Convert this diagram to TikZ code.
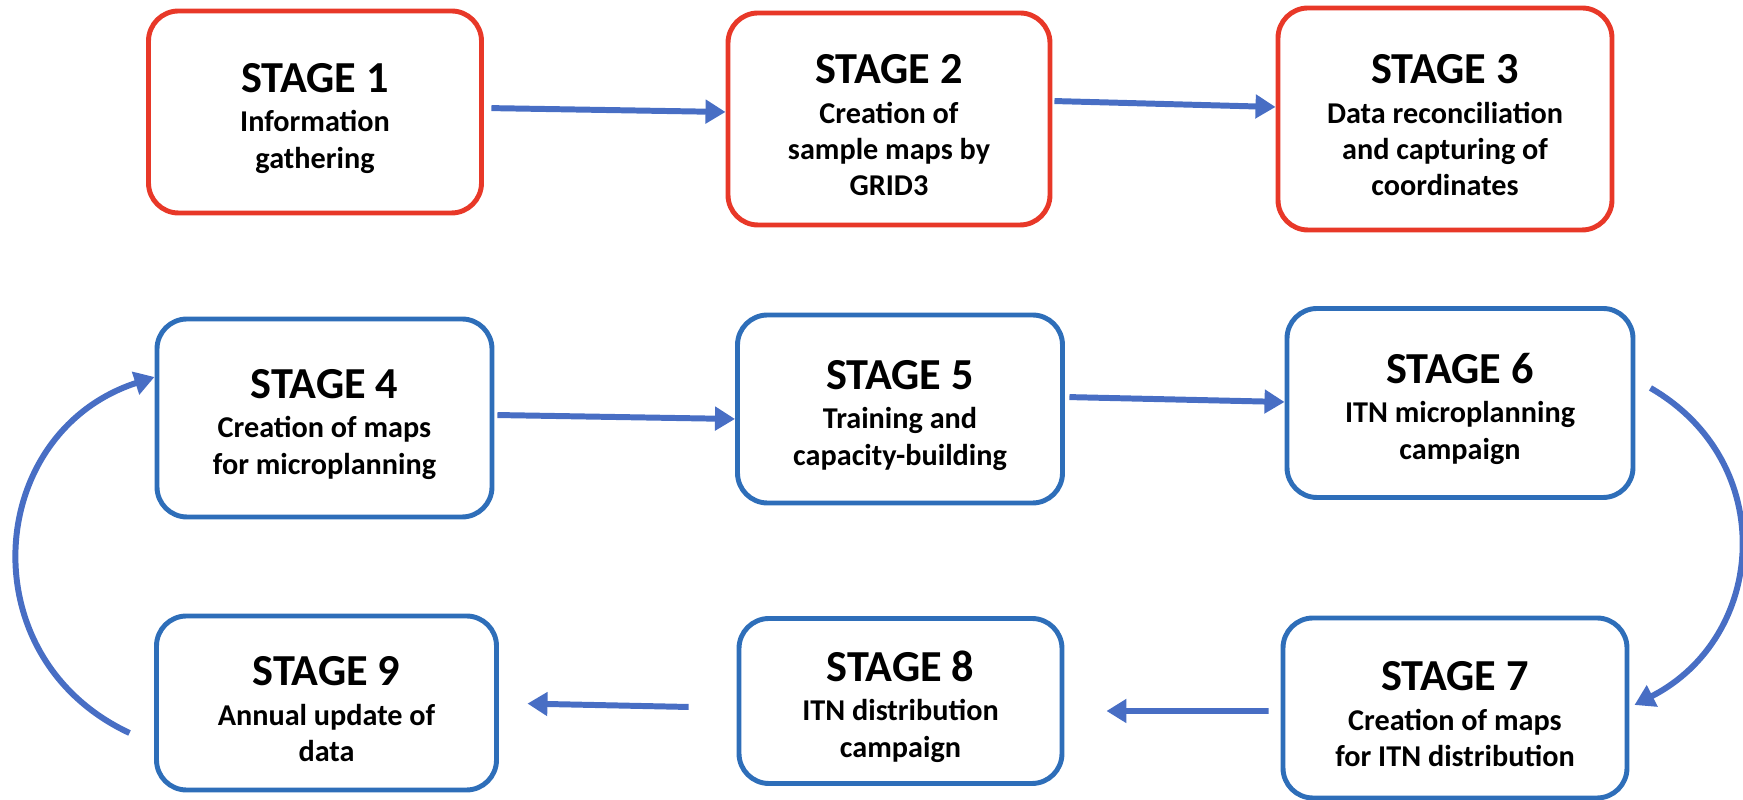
\documentclass[tikz,border=0pt]{standalone}
\usepackage{fontspec}
\setmainfont{Carlito}
\definecolor{stagered}{RGB}{232,56,40}
\definecolor{stageblue}{RGB}{46,110,185}
\definecolor{arrowblue}{RGB}{72,110,196}
\usetikzlibrary{arrows.meta}
\newcommand{\stagefont}{\fontsize{12.6}{14}\selectfont\rule{0pt}{11.8pt}}

\begin{document}
\begin{tikzpicture}[
  box/.style={draw, fill=white, line width=1.4pt, rounded corners=0.3cm, align=center,
    font=\bfseries\fontsize{8.6}{10.3}\selectfont},
  redbox/.style={box, draw=stagered},
  bluebox/.style={box, draw=stageblue},
  arrow/.style={-{Triangle[length=2mm,width=2.3mm]}, line width=1.7pt, color=arrowblue}
]
  \useasboundingbox (0,0) rectangle (17.43,8);
  %% 1. Top row
  \node[redbox, minimum width=3.33cm, minimum height=2.02cm] (s1) at (3.15,6.88)
    {{\stagefont STAGE 1}\\[1pt]Information\\gathering};
  \node[redbox, minimum width=3.22cm, minimum height=2.12cm] (s2) at (8.89,6.81)
    {{\stagefont STAGE 2}\\[1pt]Creation of\\sample maps by\\GRID3};
  \node[redbox, minimum width=3.34cm, minimum height=2.22cm] (s3) at (14.45,6.81)
    {{\stagefont STAGE 3}\\[1pt]Data reconciliation\\and capturing of\\coordinates};
  %% 2. Middle row
  \node[bluebox, minimum width=3.35cm, minimum height=1.98cm] (s4) at (3.245,3.82)
    {{\stagefont STAGE 4}\\[1pt]Creation of maps\\for microplanning};
  \node[bluebox, minimum width=3.25cm, minimum height=1.88cm] (s5) at (9.00,3.91)
    {{\stagefont STAGE 5}\\[1pt]Training and\\capacity-building};
  \node[bluebox, minimum width=3.46cm, minimum height=1.89cm] (s6) at (14.60,3.97)
    {{\stagefont STAGE 6}\\[1pt]ITN microplanning\\campaign};
  %% 3. Bottom row
  \node[bluebox, minimum width=3.44cm, minimum height=1.80cm] (s7) at (14.55,0.92)
    {{\stagefont STAGE 7}\\[1pt]Creation of maps\\for ITN distribution};
  \node[bluebox, minimum width=3.23cm, minimum height=1.65cm] (s8) at (9.005,0.99)
    {{\stagefont STAGE 8}\\[1pt]ITN distribution\\campaign};
  \node[bluebox, minimum width=3.40cm, minimum height=1.74cm] (s9) at (3.265,0.97)
    {{\stagefont STAGE 9}\\[1pt]Annual update of\\data};
  %% 4. Arrows
  \draw[arrow, shorten <=0.75mm] ([yshift=0.4mm]s1.east) -- ([yshift=0.7mm]s2.west);
  \draw[arrow, shorten <=0.2mm] ([yshift=1.8mm]s2.east) -- ([yshift=1.2mm]s3.west);
  \draw[arrow, shorten <=0.3mm] ([yshift=0.3mm]s4.east) -- ([yshift=-1mm]s5.west);
  \draw[arrow, shorten <=0.45mm] ([yshift=1.2mm]s5.east) -- ([yshift=0.1mm]s6.west);
  \draw[arrow] ([xshift=1.5mm,yshift=1.5mm]s6.east) to[out=-30,in=27,looseness=1.2]
    ([xshift=0.5mm,yshift=0.3mm]s7.east);
  \draw[arrow, shorten <=1.2mm, shorten >=4.2mm] ([yshift=-0.3mm]s7.west) -- ([yshift=-1mm]s8.east);
  \draw[arrow, shorten <=4.8mm, shorten >=2.85mm] ([yshift=-0.7mm]s8.west) -- (s9.east);
  \draw[arrow] ([xshift=-2.45mm,yshift=-3mm]s9.west) to[out=155,in=-162,looseness=1.28]
    ([yshift=4.1mm]s4.west);
\end{tikzpicture}
\end{document}
